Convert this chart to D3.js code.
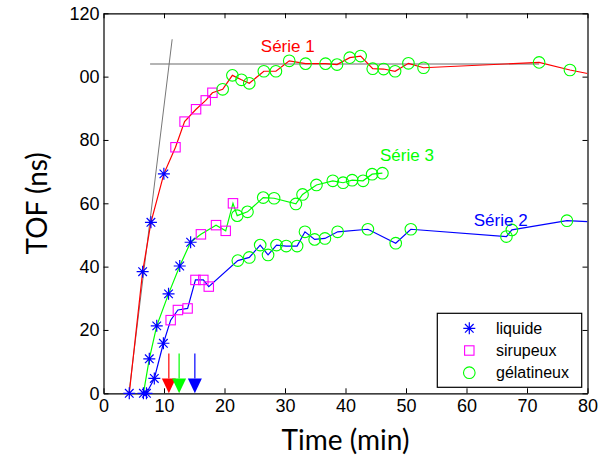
<!DOCTYPE html>
<html>
<head>
<meta charset="utf-8">
<script src="https://cdn.jsdelivr.net/npm/d3@7"></script>
<style>
  html, body { margin: 0; padding: 0; background: #fff; }
  svg { display: block; }
</style>
</head>
<body>
<svg id="chart" width="598" height="458"></svg>
<script>
// ---------- data ----------
const xTicks = [0, 10, 20, 30, 40, 50, 60, 70, 80];
const yTicks = [0, 20, 40, 60, 80, 100, 120];
const yTickLabels = ["0", "20", "40", "60", "80", "00", "120"];

// marker codes: l = liquide, s = sirupeux, g = gélatineux, n = none
const s1X = [4.26, 6.47, 7.84, 9.98, 11.9, 13.4, 15.3, 16.9, 18.0, 19.7, 21.3, 22.8, 24.1, 26.5, 28.5, 30.7, 33.4, 36.7, 38.6, 40.7, 42.5, 44.5, 46.3, 48.2, 50.4, 52.9, 72.0, 77.1, 80];
const s1Y = [0, 38.4, 54.0, 69.3, 77.7, 85.8, 89.7, 92.5, 94.9, 96.0, 100.4, 99.0, 97.9, 101.7, 101.7, 105.0, 104.1, 104.1, 103.8, 106.0, 106.5, 102.5, 102.4, 101.7, 104.2, 102.8, 104.5, 102.1, 101.0];
const s1M = ["l","l","l","l","s","s","s","s","s","g","g","g","g","g","g","g","g","g","g","g","g","g","g","g","g","g","g","g","n"];

const s2X = [7.1, 8.4, 9.9, 11.1, 12.3, 13.9, 15.2, 16.5, 17.4, 22.2, 24.1, 25.9, 27.2, 28.6, 30.2, 32.0, 33.3, 34.9, 36.6, 38.7, 43.7, 48.3, 50.8, 66.6, 67.5, 76.6, 80];
const s2Y = [0, 4.7, 15.8, 23.1, 26.3, 26.8, 35.8, 35.8, 33.7, 41.9, 42.9, 46.8, 43.7, 46.8, 46.5, 46.5, 51.0, 48.6, 48.9, 51.0, 51.8, 47.4, 51.8, 49.5, 51.6, 54.5, 54.2];
const s2M = ["l","l","l","s","s","s","s","s","s","g","g","g","g","g","g","g","g","g","g","g","g","g","g","g","g","g","n"];

const s3X = [6.6, 7.57, 8.8, 10.75, 12.6, 14.4, 16.1, 18.6, 20.2, 21.4, 22.1, 23.8, 26.4, 28.2, 31.8, 32.9, 35.2, 37.9, 39.6, 41.1, 42.9, 44.4, 46.1];
const s3Y = [0, 10.9, 21.3, 31.4, 40.2, 47.7, 50.2, 53.1, 51.3, 60.0, 56.1, 57.3, 61.8, 61.6, 59.8, 62.8, 65.8, 67.1, 66.5, 67.3, 67.1, 69.2, 69.5];
const s3M = ["l","l","l","l","l","l","s","s","s","s","g","g","g","g","g","g","g","g","g","g","g","g","g"];

const seriesNames = ["Série 1", "Série 2", "Série 3"];
const seriesColors = ["#ff0000", "#0000ff", "#00ff00"];
const seriesLabelX = [26.0, 61.2, 45.7];
const seriesLabelY = [107.8, 52.9, 73.3];

// gel-time arrows
const arrowX = [10.8, 12.5, 15.1];
const arrowColors = ["#ff0000", "#00ff00", "#0000ff"];
const arrowTop = 12.6, arrowHead = 4.7;

// tangent construction (gray lines)
const tangentX = [4.2, 11.35];
const tangentY = [0, 111.8];
const plateauX = [7.7, 72.0];
const plateauY = [104.0, 104.0];

const legendKeys = ["l", "s", "g"];
const legendNames = ["liquide", "sirupeux", "gélatineux"];
const markerColors = { l: "#0000ff", s: "#ff00ff", g: "#00ff00" };

// ---------- drawing ----------
const svg = d3.select("#chart");
const x = d3.scaleLinear().domain([0, 80]).range([103.5, 587.5]);
const y = d3.scaleLinear().domain([0, 120]).range([393.3, 13.3]);
const tickFont = "'Liberation Sans', Arial, sans-serif";

svg.append("defs").append("clipPath").attr("id", "plot")
  .append("rect").attr("x", x(0)).attr("y", y(120))
  .attr("width", x(80) - x(0)).attr("height", y(0) - y(120));

// axes
function styleAxis(g) {
  g.selectAll("path.domain").attr("stroke", "#000").attr("stroke-width", 1.2);
  g.selectAll(".tick line").attr("stroke", "#000");
  g.selectAll("text").attr("font-family", tickFont).attr("font-size", 18).attr("fill", "#000");
}
svg.append("g").attr("transform", `translate(0,${y(0)})`)
  .call(d3.axisBottom(x).tickValues(xTicks).tickFormat(d3.format("d")).tickSizeInner(-5).tickSizeOuter(0).tickPadding(6))
  .call(styleAxis);
svg.append("g").attr("transform", `translate(0,${y(120)})`)
  .call(d3.axisTop(x).tickValues(xTicks).tickFormat("").tickSizeInner(-5).tickSizeOuter(0))
  .call(styleAxis);
svg.append("g").attr("transform", `translate(${x(0)},0)`)
  .call(d3.axisLeft(y).tickValues(yTicks).tickFormat((d, i) => yTickLabels[i]).tickSizeInner(-5).tickSizeOuter(0).tickPadding(4))
  .call(styleAxis);
svg.append("g").attr("transform", `translate(${x(80)},0)`)
  .call(d3.axisRight(y).tickValues(yTicks).tickFormat("").tickSizeInner(-5).tickSizeOuter(0))
  .call(styleAxis);

// axis titles
svg.append("text").attr("x", (x(0) + x(80)) / 2).attr("y", 450)
  .attr("text-anchor", "middle").attr("font-family", "Lato, 'Open Sans', sans-serif")
  .attr("font-size", 28).text("Time (min)");
svg.append("text").attr("transform", `translate(47,${(y(0) + y(120)) / 2}) rotate(-90)`)
  .attr("text-anchor", "middle").attr("font-family", "Lato, 'Open Sans', sans-serif")
  .attr("font-size", 28).text("TOF (ns)");

const plot = svg.append("g").attr("clip-path", "url(#plot)");

// gray construction lines
const line = d3.line().x(d => x(d[0])).y(d => y(d[1]));
plot.append("path").datum(d3.zip(plateauX, plateauY)).attr("d", line)
  .attr("fill", "none").attr("stroke", "#b4b4b4").attr("stroke-width", 2);
plot.append("path").datum(d3.zip(tangentX, tangentY)).attr("d", line)
  .attr("fill", "none").attr("stroke", "#777").attr("stroke-width", 1);

// series lines
const series = [
  { X: s1X, Y: s1Y, M: s1M },
  { X: s2X, Y: s2Y, M: s2M },
  { X: s3X, Y: s3Y, M: s3M }
];
series.forEach((s, i) => {
  plot.append("path").datum(d3.zip(s.X, s.Y)).attr("d", line)
    .attr("fill", "none").attr("stroke", seriesColors[i]).attr("stroke-width", 1.2);
});

// markers
function drawMarker(g, type, cx, cy) {
  if (type === "l") {
    const h = 6, d = 4.3;
    g.append("path")
      .attr("d", `M${cx - h},${cy}L${cx + h},${cy}M${cx},${cy - h}L${cx},${cy + h}M${cx - d},${cy - d}L${cx + d},${cy + d}M${cx - d},${cy + d}L${cx + d},${cy - d}`)
      .attr("stroke", markerColors.l).attr("stroke-width", 1.2).attr("fill", "none");
  } else if (type === "s") {
    g.append("rect").attr("x", cx - 4.7).attr("y", cy - 4.7).attr("width", 9.4).attr("height", 9.4)
      .attr("fill", "none").attr("stroke", markerColors.s).attr("stroke-width", 1.1);
  } else if (type === "g") {
    g.append("circle").attr("cx", cx).attr("cy", cy).attr("r", 5.8)
      .attr("fill", "none").attr("stroke", markerColors.g).attr("stroke-width", 1.1);
  }
}
const markerG = svg.append("g");
series.forEach(s => {
  s.X.forEach((v, j) => drawMarker(markerG, s.M[j], x(v), y(s.Y[j])));
});

// arrows
arrowX.forEach((v, i) => {
  const g = svg.append("g");
  g.append("line").attr("x1", x(v)).attr("x2", x(v)).attr("y1", y(arrowTop)).attr("y2", y(arrowHead))
    .attr("stroke", arrowColors[i]).attr("stroke-width", 1.2);
  g.append("path")
    .attr("d", `M${x(v) - 7},${y(arrowHead)}L${x(v) + 7},${y(arrowHead)}L${x(v)},${y(0)}Z`)
    .attr("fill", arrowColors[i]);
});

// series labels
seriesNames.forEach((n, i) => {
  svg.append("text").attr("x", x(seriesLabelX[i])).attr("y", y(seriesLabelY[i]))
    .attr("font-family", tickFont).attr("font-size", 17).attr("fill", seriesColors[i]).text(n);
});

// legend
const lg = svg.append("g");
lg.append("rect").attr("x", 437.3).attr("y", 313.3).attr("width", 144.4).attr("height", 74)
  .attr("fill", "#fff").attr("stroke", "#000").attr("stroke-width", 1.2);
legendKeys.forEach((k, i) => {
  const cy = 328.3 + i * 22.2;
  drawMarker(lg, k, 469.3, cy);
  lg.append("text").attr("x", 496).attr("y", cy + 5.5)
    .attr("font-family", tickFont).attr("font-size", 16).attr("fill", "#000").text(legendNames[i]);
});
</script>
</body>
</html>
